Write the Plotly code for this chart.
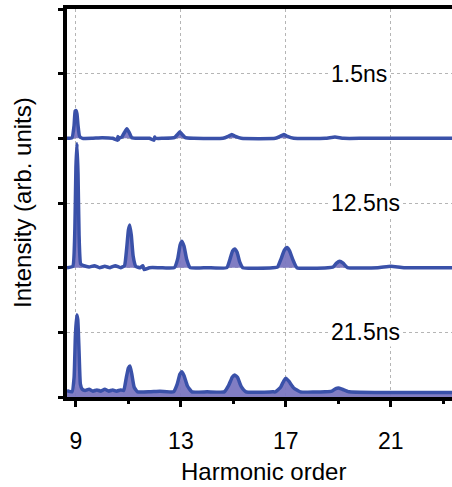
import plotly.graph_objects as go

# Harmonic spectra at three delays, stacked with vertical offsets
labels = ["1.5ns", "12.5ns", "21.5ns"]
offsets = [4.0, 2.0, 0.0]

x_15 = [8.66, 8.85, 8.93, 8.97, 9.0, 9.04, 9.08, 9.14, 9.25, 9.6, 10.0, 10.4, 10.58, 10.6, 10.62, 10.64,
        10.75, 10.85, 10.94, 11.03, 11.13, 11.4, 11.8, 11.97, 12.0, 12.03, 12.3, 12.75, 12.87, 12.96,
        13.05, 13.17, 13.5, 14.6, 14.8, 14.94, 15.08, 15.3, 16.6, 16.78, 16.92, 17.06, 17.3, 18.5,
        18.87, 19.2, 20.0, 23.4]
y_15 = [0.0, 0.01, 0.2, 0.42, 0.43, 0.38, 0.2, 0.03, 0.0, 0.0, 0.01, 0.0, -0.03, 0.03, -0.02, 0.0,
        0.02, 0.09, 0.15, 0.09, 0.01, 0.0, 0.0, -0.03, 0.02, 0.0, 0.0, 0.01, 0.06, 0.1, 0.06, 0.01,
        0.0, 0.0, 0.03, 0.06, 0.03, 0.0, 0.0, 0.03, 0.06, 0.03, 0.0, 0.0, 0.02, 0.0, 0.0, 0.0]

x_125 = [8.66, 8.88, 8.96, 9.0, 9.04, 9.08, 9.12, 9.18, 9.3, 9.5, 9.7, 9.9, 10.1, 10.3, 10.5, 10.7,
         10.85, 10.93, 11.0, 11.05, 11.11, 11.18, 11.28, 11.45, 11.55, 11.6, 11.8, 12.2, 12.75,
         12.88, 12.97, 13.04, 13.12, 13.22, 13.35, 14.0, 14.75, 14.87, 14.97, 15.05, 15.14, 15.24,
         15.36, 16.5, 16.68, 16.82, 16.94, 17.04, 17.14, 17.27, 17.42, 18.6, 18.8, 18.93, 19.05,
         19.18, 19.35, 20.5, 21.0, 21.5, 23.4]
y_125 = [0.0, 0.02, 0.6, 1.55, 1.92, 1.45, 0.5, 0.06, 0.03, 0.01, 0.03, 0.0, 0.02, 0.0, 0.03, 0.0,
         0.03, 0.28, 0.58, 0.66, 0.5, 0.18, 0.02, 0.0, 0.03, -0.03, 0.0, 0.0, 0.0, 0.14, 0.35, 0.41,
         0.33, 0.13, 0.0, 0.0, 0.0, 0.13, 0.26, 0.29, 0.24, 0.09, 0.0, 0.0, 0.01, 0.14, 0.27, 0.31,
         0.26, 0.12, 0.0, 0.0, 0.01, 0.07, 0.1, 0.07, 0.0, 0.0, 0.02, 0.0, 0.0]

x_215 = [8.66, 8.85, 8.93, 8.98, 9.03, 9.07, 9.12, 9.17, 9.24, 9.35, 9.5, 9.65, 9.8, 9.95, 10.1,
         10.25, 10.4, 10.55, 10.7, 10.82, 10.92, 11.0, 11.06, 11.13, 11.22, 11.35, 11.8, 12.2,
         12.72, 12.86, 12.96, 13.03, 13.12, 13.25, 13.42, 14.0, 14.65, 14.82, 14.96, 15.05, 15.16,
         15.3, 15.48, 16.5, 16.6, 16.8, 16.92, 17.0, 17.12, 17.3, 17.55, 18.5, 18.75, 18.9, 19.0,
         19.15, 19.4, 20.5, 23.4]
y_215 = [0.1, 0.08, 0.3, 0.95, 1.27, 1.2, 0.7, 0.2, 0.12, 0.1, 0.12, 0.09, 0.11, 0.09, 0.12, 0.09,
         0.11, 0.09, 0.11, 0.1, 0.3, 0.45, 0.48, 0.35, 0.15, 0.08, 0.08, 0.09, 0.08, 0.2, 0.35, 0.39,
         0.33, 0.17, 0.08, 0.08, 0.08, 0.18, 0.31, 0.34, 0.3, 0.16, 0.08, 0.08, 0.08, 0.15, 0.25,
         0.29, 0.24, 0.14, 0.08, 0.08, 0.09, 0.13, 0.14, 0.12, 0.08, 0.07, 0.07]

series_x = [x_15, x_125, x_215]
series_y = [y_15, y_125, y_215]

x_ticks = [9, 13, 17, 21]
x_minor_ticks = [11, 15, 19, 23]
y_ticks = [0, 1, 2, 3, 4, 5, 6]
x_range = [8.66, 23.33]
y_range = [0, 6]
x_title = "Harmonic order"
y_title = "Intensity (arb. units)"

line_color = "#3a51a9"
fill_color = "rgba(122, 118, 192, 0.95)"
font_family = "Liberation Sans, Arial, sans-serif"

fig = go.Figure()
for xs, ys, off in zip(series_x, series_y, offsets):
    # invisible baseline for the fill to close against
    fig.add_trace(go.Scatter(x=[xs[0], xs[-1]], y=[off, off], mode="lines",
                             line=dict(width=0), hoverinfo="skip", showlegend=False))
    fig.add_trace(go.Scatter(x=xs, y=[off + v for v in ys], mode="lines",
                             line=dict(color=line_color, width=3.5, shape="spline", smoothing=0.4),
                             fill="tonexty", fillcolor=fill_color, showlegend=False))

label_x = [19.78, 20.05, 20.05]
label_y = [5, 3, 1]
for txt, lx, ly in zip(labels, label_x, label_y):
    fig.add_annotation(x=lx, y=ly, text=txt, showarrow=False, bgcolor="white",
                       borderpad=1, font=dict(size=23, color="black", family=font_family))

# axis titles placed just outside the plotting area
fig.add_annotation(xref="paper", yref="paper", x=0.5, y=0, xshift=4, yshift=-74,
                   text=x_title, showarrow=False, xanchor="center", yanchor="middle",
                   font=dict(size=24, color="black", family=font_family))
fig.add_annotation(xref="paper", yref="paper", x=0, y=0.5, xshift=-45, yshift=0,
                   text=y_title, showarrow=False, textangle=-90, xanchor="center",
                   yanchor="middle", font=dict(size=24, color="black", family=font_family))

fig.update_xaxes(range=x_range, tickvals=x_ticks, ticks="outside", ticklen=6, tickwidth=3,
                 tickcolor="black", showline=True, linewidth=4, linecolor="black", mirror=True,
                 showgrid=True, gridcolor="#b5b5b5", griddash="dot", gridwidth=1, zeroline=False,
                 ticklabelstandoff=14, automargin=False,
                 minor=dict(tickvals=x_minor_ticks, ticks="outside", ticklen=3, tickwidth=3,
                            tickcolor="black", showgrid=False),
                 tickfont=dict(size=23, color="black", family=font_family))
fig.update_yaxes(range=y_range, tickvals=y_ticks, ticks="outside", ticklen=5, tickwidth=3,
                 tickcolor="black", showticklabels=False, showline=True, linewidth=4,
                 linecolor="black", showgrid=True, gridcolor="#b5b5b5", griddash="dot",
                 gridwidth=1, zeroline=False, automargin=False)

fig.update_layout(width=452, height=487, margin=dict(l=67, r=0, t=9, b=90),
                  plot_bgcolor="white", paper_bgcolor="white", showlegend=False)

fig.write_html("out.html")
